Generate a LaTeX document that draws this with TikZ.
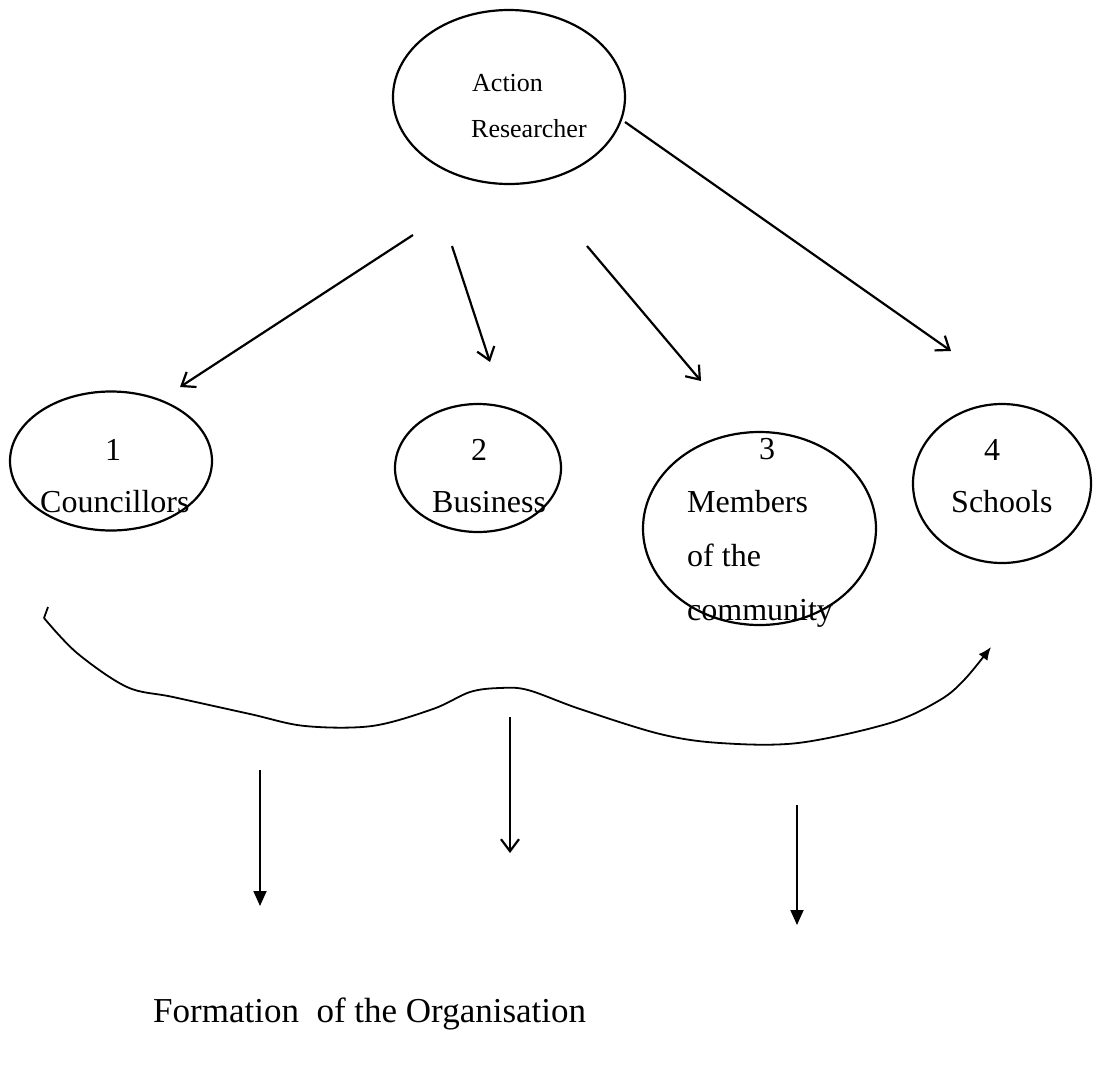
\documentclass[tikz,border=0pt]{standalone}
\usepackage{fontspec}
\setmainfont{Liberation Serif}
\usetikzlibrary{arrows.meta,shapes.geometric}
\begin{document}
\begin{tikzpicture}[x=1pt,y=-1pt,
  oval/.style={draw,ellipse,line width=2.2pt,inner sep=0pt},
  lbl/.style={anchor=base west,inner sep=0pt,font=\fontsize{32}{36}\selectfont},
  sml/.style={anchor=base west,inner sep=0pt,font=\fontsize{26}{30}\selectfont},
  openarr/.style={line width=2.2pt,-{Straight Barb[length=12pt,width=18pt,line width=2.2pt]}},
  fillarr/.style={line width=1.8pt,-{Triangle[length=15pt,width=13pt]}}]
\useasboundingbox (0,0) rectangle (1112,1066);
% ellipses
\node[oval,minimum width=232pt,minimum height=174pt] (ar) at (509,97) {};
\node[oval,minimum width=202pt,minimum height=139pt] (e1) at (111,461) {};
\node[oval,minimum width=166pt,minimum height=128pt] (e2) at (478,468) {};
\node[oval,minimum width=233pt,minimum height=193pt] (e3) at (759.5,528.5) {};
\node[oval,minimum width=178pt,minimum height=159pt] (e4) at (1002,483.5) {};
% texts
\node[sml] (t0a) at (472,91) {Action};
\node[sml] (t0b) at (471,137) {Researcher};
\node[lbl] (t1n) at (105,460) {1};
\node[lbl] (t1) at (40,512) {Councillors};
\node[lbl] (t2n) at (471,460) {2};
\node[lbl] (t2) at (432,512) {Business};
\node[lbl] (t3n) at (759,459) {3};
\node[lbl] (t3a) at (687,512) {Members};
\node[lbl] (t3b) at (687,566) {of the};
\node[lbl] (t3c) at (687,620) {community};
\node[lbl] (t4n) at (984,460) {4};
\node[lbl] (t4) at (951,512) {Schools};
\node[anchor=base west,inner sep=0pt,font=\fontsize{35}{40}\selectfont] (title) at (153,1022) {Formation\ \ of the Organisation};
% arrow end coordinates
\coordinate (s1) at (413,235); \coordinate (f1) at (180,387);
\coordinate (s2) at (452,246); \coordinate (f2) at (490,362);
\coordinate (s3) at (587,246); \coordinate (f3) at (701,381);
\coordinate (s4) at (625,122); \coordinate (f4) at (951,351);
\draw[openarr] (s1) -- (f1);
\draw[openarr] (s2) -- (f2);
\draw[openarr] (s3) -- (f3);
\draw[openarr] (s4) -- (f4);
% wavy connector
\coordinate (ws) at (48,607);
\coordinate (we) at (991,647);
\draw[line width=1.8pt] (ws) -- (44,618);
\draw[line width=1.8pt,-{Latex[length=13pt,width=11pt]}] plot[smooth,tension=0.55] coordinates {
 (44,618) (77,653) (127,687) (173,697) (250,714) (305,726) (372,726) (433,709) (470,692) (500,688) (528,690) (580,709) (660,734) (720,743) (798,743) (890,723) (940,700) (965,679) (991,647)};
% down arrows
\coordinate (d1s) at (260,770); \coordinate (d1e) at (260,906);
\coordinate (d2s) at (510,717); \coordinate (d2e) at (510,853);
\coordinate (d3s) at (797,805); \coordinate (d3e) at (797,925);
\draw[fillarr] (d1s) -- (d1e);
\draw[openarr] (d2s) -- (d2e);
\draw[fillarr] (d3s) -- (d3e);
\end{tikzpicture}
\end{document}
